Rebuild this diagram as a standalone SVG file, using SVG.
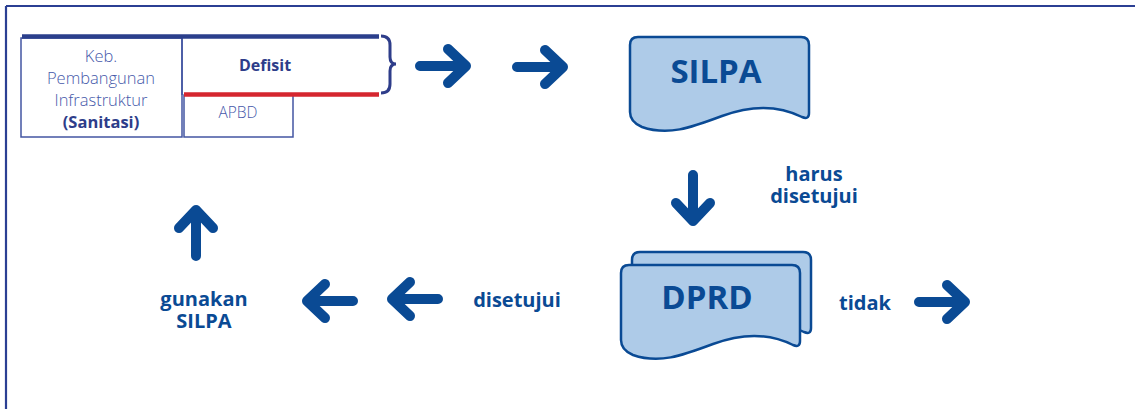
<svg xmlns="http://www.w3.org/2000/svg" width="1135" height="409" viewBox="0 0 1135 409">
<style>
.frame{stroke:#2b3f93;stroke-width:2.2;fill:none}
.box{fill:#fff;stroke:#4355a2;stroke-width:1.5}
.lt{font-family:"Open Sans","Noto Sans",sans-serif;font-size:16.5px;fill:#4659aa;text-anchor:middle;font-weight:300}
.bt{font-family:"Open Sans","Noto Sans",sans-serif;font-size:16px;fill:#2e3d8a;text-anchor:middle;font-weight:700}
.lbl{font-family:"Open Sans","Noto Sans",sans-serif;font-size:20px;fill:#0a4a94;text-anchor:middle;font-weight:700}
.big{font-family:"Open Sans","Noto Sans",sans-serif;font-size:33px;fill:#0a4a94;text-anchor:middle;font-weight:700}
.doc{fill:#aecbe8;stroke:#0a4a94;stroke-width:2.5;stroke-linejoin:round}
.arr{fill:none;stroke:#0a4a94;stroke-width:10;stroke-linecap:round;stroke-linejoin:round}
</style>
<defs>
<path id="a" class="arr" d="M -23,0 H 23 M 5,-17 L 23,0 L 5,17"/>
<path id="sheet" d="M 630,45 Q 630,37 638,37 H 801 Q 809,37 809,45 V 113 Q 809,120 802,117 C 782,107 757,103 722,116 C 690,128 668,136 642,127 Q 630,122 630,112 Z"/>
</defs>
<g id="frame">
<line class="frame" x1="6" y1="6" x2="1135" y2="6"/>
<line class="frame" x1="6" y1="6" x2="6" y2="409"/>
</g>
<g id="kebutuhan">
<rect class="box" x="21" y="38" width="161" height="99"/>
<text class="lt" x="101" y="62">Keb.<tspan x="101" y="84">Pembangunan</tspan><tspan x="101" y="106">Infrastruktur</tspan><tspan x="101" y="128" style="font-weight:700;fill:#2e3d8a">(Sanitasi)</tspan></text>
</g>
<g id="apbd">
<rect class="box" x="184" y="95" width="109" height="42"/>
<text class="lt" x="238" y="118" style="font-size:15.5px">APBD</text>
</g>
<g id="defisit">
<line x1="182" y1="38" x2="182" y2="95" stroke="#4355a2" stroke-width="1.5"/>
<line x1="22" y1="36.5" x2="379" y2="36.5" stroke="#2b3f8c" stroke-width="4.5"/>
<line x1="184" y1="94.5" x2="379" y2="94.5" stroke="#d5262f" stroke-width="4.5"/>
<text class="bt" x="265" y="71">Defisit</text>
<path d="M 381,36 Q 390,36 390,45 L 390,57 Q 390,64 396,64 Q 390,64 390,71 L 390,84 Q 390,93 381,93" fill="none" stroke="#2e3d8a" stroke-width="3"/>
</g>
<g id="silpa">
<use href="#sheet" class="doc"/>
<text class="big" x="716" y="83">SILPA</text>
</g>
<g id="dprd">
<use href="#sheet" class="doc" transform="translate(2,215)"/>
<use href="#sheet" class="doc" transform="translate(-9,228)"/>
<text class="big" x="707" y="309">DPRD</text>
</g>
<g id="labels">
<text class="lbl" x="814" y="181">harus<tspan x="814" y="203">disetujui</tspan></text>
<text class="lbl" x="865" y="310">tidak</text>
<text class="lbl" x="517" y="307">disetujui</text>
<text class="lbl" x="204" y="306">gunakan<tspan x="204" y="328">SILPA</tspan></text>
</g>
<g id="connectors">
<use href="#a" transform="translate(443,66)"/>
<use href="#a" transform="translate(540,67)"/>
<use href="#a" transform="translate(693,198) rotate(90)"/>
<use href="#a" transform="translate(942,302)"/>
<use href="#a" transform="translate(415,299) rotate(180)"/>
<use href="#a" transform="translate(330,301) rotate(180)"/>
<use href="#a" transform="translate(196,233) rotate(-90)"/>
</g>
</svg>
